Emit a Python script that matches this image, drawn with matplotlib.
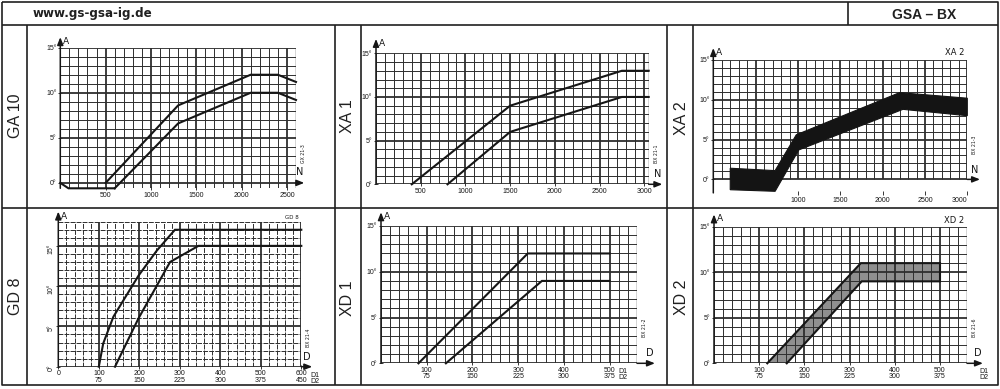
import numpy as np
import matplotlib.pyplot as plt

W, H = 1000, 389
INK = '#161616'
GRID = '#2e2e2e'
SMALL = ['Liberation Sans Narrow', 'Liberation Sans', 'DejaVu Sans']

# ---- curve data (A = angle, N = force, D = diameter) ----
# GA 10
ga10_n_hi = [500, 1300, 2100, 2400, 2600]
ga10_a_hi = [0, 8.6, 12, 12, 11.2]
ga10_n_lo = [600, 1300, 2100, 2400, 2600]
ga10_a_lo = [-0.6, 6.6, 10, 10, 9.2]
ga10_n_base = [0, 90, 600]
ga10_a_base = [0, -0.6, -0.6]

# XA 1
xa1_n_hi = [400, 1500, 2750, 3050]
xa1_a_hi = [0, 9, 13, 13]
xa1_n_lo = [800, 1500, 2750, 3050]
xa1_a_lo = [0, 6, 10, 10]

# XA 2 (band)
xa2_n_top = [200, 730, 980, 2200, 3000]
xa2_a_top = [1.4, 1.1, 5.6, 10.9, 10.2]
xa2_n_bot = [200, 730, 1010, 2240, 3000]
xa2_a_bot = [-1.3, -1.5, 3.7, 8.8, 8.0]

# GD 8
gd8_d_hi = [100, 111, 136, 198, 243, 288, 600]
gd8_a_hi = [0, 2.9, 6.2, 11.3, 14.4, 17, 17]
gd8_d_lo = [140, 198, 276, 346, 600]
gd8_a_lo = [0, 6, 13, 15, 15]

# XD 1
xd1_d_hi = [82, 321, 500]
xd1_a_hi = [0, 12, 12]
xd1_d_lo = [142, 352, 500]
xd1_a_lo = [0, 9, 9]

# XD 2 (band)
xd2_d_top = [118, 325, 500]
xd2_a_top = [0, 11, 11]
xd2_d_bot = [161, 327, 500]
xd2_a_bot = [0, 9, 9]

# ---- tick labels ----
a_ticks = [0, 5, 10, 15]
a_labels = ['0°', '5°', '10°', '15°']
n_ticks_ga10 = [500, 1000, 1500, 2000, 2500]
n_ticks_xa1 = [500, 1000, 1500, 2000, 2500, 3000]
n_ticks_xa2 = [1000, 1500, 2000, 2500, 3000]
d_ticks = [100, 200, 300, 400, 500]
d_labels = ['100\n75', '200\n150', '300\n225', '400\n300', '500\n375']
gd8_ticks = [0, 100, 200, 300, 400, 500, 600]
gd8_labels = ['0', '100\n75', '200\n150', '300\n225', '400\n300', '500\n375', '600\n450']

fig = plt.figure(figsize=(W / 100, H / 100), dpi=100)
fig.patch.set_facecolor('white')

# sheet frame drawn in pixel space
bg = fig.add_axes([0, 0, 1, 1])
bg.set_xlim(0, W)
bg.set_ylim(H, 0)
bg.axis('off')
fr = dict(color='#202020', lw=1.2, solid_capstyle='butt')
bg.plot([2, 998, 998, 2, 2], [2, 2, 385, 385, 2], **fr)
bg.plot([2, 998], [25, 25], **fr)
bg.plot([2, 998], [208, 208], **fr)
bg.plot([848, 848], [2, 25], **fr)
for xv in [27, 335, 361, 667, 693]:
    bg.plot([xv, xv], [25, 385], **fr)
bg.text(33, 13.5, 'www.gs-gsa-ig.de', fontsize=8.6, fontweight='bold',
        family='DejaVu Sans', color='#202020', va='center', ha='left')
bg.text(924, 15, 'GSA – BX', fontsize=10, fontweight='bold',
        family='Liberation Sans', color='#202020', va='center', ha='center')
for name, cx, cy in [('GA 10', 15, 116), ('XA 1', 348, 116), ('XA 2', 681, 118),
                     ('GD 8', 15, 296), ('XD 1', 348, 298), ('XD 2', 681, 297)]:
    bg.text(cx, cy, name, rotation=90, fontsize=11.5, family='Liberation Sans',
            color='#202020', ha='center', va='center')


def panel(rect, xlim, ylim, xstep, xmajor, arrow_x, arrow_y, xname,
          grid_bottom=None, dashed=False, code='', code_y=0.2):
    l, t, r, b = rect
    ax = fig.add_axes([l / W, 1 - b / H, (r - l) / W, (b - t) / H])
    ax.set_xlim(xlim)
    ax.set_ylim(ylim)
    ax.patch.set_alpha(0)
    for s in ax.spines.values():
        s.set_visible(False)
    gb = ylim[0] if grid_bottom is None else grid_bottom
    minor_ls = (0, (5, 1.2)) if dashed else '-'
    for xv in np.arange(xlim[0], xlim[1] + 1e-6, xstep):
        major = abs(xv / xmajor - round(xv / xmajor)) < 1e-6
        ax.vlines(xv, gb, ylim[1], color=GRID, lw=1.3 if major else 0.7,
                  linestyles='-' if major else minor_ls, zorder=2)
    ax.vlines(xlim[1], gb, ylim[1], color=GRID, lw=1.0, zorder=2)
    for yv in np.arange(0, ylim[1] + 1e-6, 1):
        major = yv % 5 == 0
        ax.hlines(yv, xlim[0], xlim[1], color=GRID, lw=1.3 if major else 0.7,
                  linestyles='-' if major else minor_ls, zorder=2)
    ax.tick_params(axis='both', direction='inout', length=3, width=0.6,
                   labelsize=5, pad=1.2, colors=INK)
    # axes with arrow heads
    ax.annotate('', xy=(0, arrow_y), xytext=(0, 0), xycoords='axes fraction',
                arrowprops=dict(arrowstyle='-|>,head_length=0.45,head_width=0.18',
                                lw=1.1, color=INK, shrinkA=0, shrinkB=0))
    tr = ax.get_yaxis_transform()
    ax.annotate('', xy=(arrow_x, 0), xytext=(1, 0), xycoords=tr, textcoords=tr,
                arrowprops=dict(arrowstyle='-|>,head_length=0.45,head_width=0.18',
                                lw=1.1, color=INK, shrinkA=0, shrinkB=0))
    ax.text(0.012, arrow_y, 'A', transform=ax.transAxes, fontsize=6.5,
            family='DejaVu Sans', color=INK, va='top', ha='left')
    ax.text(arrow_x - 0.005, 0.6, xname, transform=tr, fontsize=7,
            family='DejaVu Sans', color=INK, va='bottom', ha='right')
    if code:
        ax.text(1.02, code_y, code, transform=ax.transAxes, rotation=90,
                fontsize=3.3, color=INK, ha='left', va='center')
    return ax


def style_ticks(ax, xt, xl, yrot=0):
    ax.set_xticks(xt)
    ax.set_xticklabels(xl, linespacing=0.85)
    ax.set_yticks(a_ticks)
    ax.set_yticklabels(a_labels, rotation=yrot)
    for lab in ax.get_xticklabels() + ax.get_yticklabels():
        lab.set_family(SMALL)


def d_names(ax, x):
    ax.text(x, -0.035, 'D1\nD2', transform=ax.get_xaxis_transform(), fontsize=5,
            family=SMALL, color=INK, ha='left', va='top', linespacing=0.85)


line = dict(color=INK, lw=1.5, solid_joinstyle='miter', zorder=4, clip_on=False)

# GA 10
ax = panel((60.3, 47.7, 296, 188.3), (0, 2600), (-0.6, 15), 100, 500, 1.035, 1.075, 'N',
           code='GX 21-3', code_y=0.25)
style_ticks(ax, n_ticks_ga10, [str(v) for v in n_ticks_ga10])
ax.plot(ga10_n_hi, ga10_a_hi, **line)
ax.plot(ga10_n_lo, ga10_a_lo, **line)
ax.plot(ga10_n_base, ga10_a_base, **line)

# XA 1
ax = panel((376, 53.3, 648.7, 184.3), (0, 3050), (0, 15), 100, 500, 1.05, 1.11, 'N',
           code='BX 21-1', code_y=0.23)
style_ticks(ax, n_ticks_xa1, [str(v) for v in n_ticks_xa1])
ax.plot(xa1_n_hi, xa1_a_hi, **line)
ax.plot(xa1_n_lo, xa1_a_lo, **line)

# XA 2
ax = panel((713.3, 60, 967.3, 192.9), (0, 3000), (-1.7, 15), 100, 500, 1.05, 1.09, 'N',
           grid_bottom=0, code='BX 21-3', code_y=0.36)
style_ticks(ax, n_ticks_xa2, [str(v) for v in n_ticks_xa2])
ax.get_xticklabels()[-1].set_ha('right')
ax.fill(xa2_n_top + xa2_n_bot[::-1], xa2_a_top + xa2_a_bot[::-1],
        facecolor='#141414', edgecolor='#141414', lw=0.8, zorder=5, clip_on=False)
ax.text(0.99, 1.02, 'XA 2', transform=ax.transAxes, fontsize=6, color=INK,
        ha='right', va='bottom')

# GD 8
ax = panel((58.3, 221.7, 301.3, 366.7), (0, 600), (0, 18), 20, 100, 1.045, 1.07, 'D',
           dashed=True, code='BX 21-4', code_y=0.2)
style_ticks(ax, gd8_ticks, gd8_labels, yrot=90)
ax.plot(gd8_d_hi, gd8_a_hi, **line)
ax.plot(gd8_d_lo, gd8_a_lo, **line)
ax.text(0.99, 1.015, 'GD 8', transform=ax.transAxes, fontsize=4, color=INK,
        ha='right', va='bottom')
d_names(ax, 622)

# XD 1
ax = panel((381, 226, 637, 363.3), (0, 560), (0, 15), 20, 100, 1.07, 1.10, 'D',
           code='BX 21-2', code_y=0.26)
style_ticks(ax, d_ticks, d_labels)
ax.plot(xd1_d_hi, xd1_a_hi, **line)
ax.plot(xd1_d_lo, xd1_a_lo, **line)
d_names(ax, 520)

# XD 2
ax = panel((714, 226.7, 967, 363.3), (0, 560), (0, 15), 20, 100, 1.063, 1.09, 'D',
           code='BX 21-6', code_y=0.26)
style_ticks(ax, d_ticks, d_labels)
ax.fill(xd2_d_top + xd2_d_bot[::-1], xd2_a_top + xd2_a_bot[::-1],
        color='#8f8f8f', lw=0, zorder=1)
ax.plot(xd2_d_top, xd2_a_top, **line)
ax.plot(xd2_d_bot, xd2_a_bot, **line)
ax.plot([xd2_d_top[-1], xd2_d_bot[-1]], [xd2_a_top[-1], xd2_a_bot[-1]], **line)
ax.text(0.99, 1.01, 'XD 2', transform=ax.transAxes, fontsize=6, color=INK,
        ha='right', va='bottom')
d_names(ax, 588)

fig.savefig('out.png', dpi=100)
